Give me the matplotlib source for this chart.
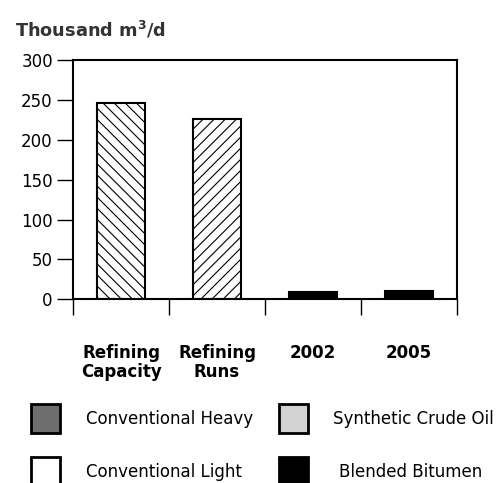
import matplotlib
matplotlib.use("Agg")
import matplotlib.pyplot as plt
from matplotlib.patches import Rectangle

plt.rcParams['font.family'] = ['DejaVu Sans']
plt.rcParams['hatch.linewidth'] = 0.8

# ---- data ----
categories = ["Refining\nCapacity", "Refining\nRuns", "2002", "2005"]
refining_values = [246, 226]          # hatched bars (first two categories)
refining_hatches = ["\\\\\\", "///"]
conv_heavy = [0, 0, 0, 0]
conv_light = [0, 0, 0, 0]
synthetic = [0, 0, 0, 0]
blended = [0, 0, 9.5, 10.5]

series_names = ["Conventional Heavy", "Conventional Light", "Synthetic Crude Oil", "Blended Bitumen"]
series_colors = ["#6e6e6e", "#ffffff", "#d2d2d2", "#000000"]
series_values = [conv_heavy, conv_light, synthetic, blended]

yticks = [0, 50, 100, 150, 200, 250, 300]

W, H = 498, 483
fig = plt.figure(figsize=(W / 100, H / 100), dpi=100)
ax = fig.add_axes([73 / W, 1 - 299.3 / H, (457 - 73) / W, (299.3 - 60) / H])

x = list(range(len(categories)))
bw = 0.5

# refining bars
for i, (v, h) in enumerate(zip(refining_values, refining_hatches)):
    ax.bar(x[i], v, width=bw, color="white", edgecolor="black", linewidth=1.5,
           hatch=h, zorder=2)

# stacked crude series
bottoms = [0.0] * len(categories)
for name, col, vals in zip(series_names, series_colors, series_values):
    for i, v in enumerate(vals):
        if v > 0:
            ax.bar(x[i], v, width=bw, bottom=bottoms[i], color=col,
                   edgecolor="black", linewidth=1.5, zorder=2)
            bottoms[i] += v

ax.set_xlim(-0.5, len(categories) - 0.5)
ax.set_ylim(0, 300)
ax.set_yticks(yticks)
ax.set_yticklabels([str(t) for t in yticks], fontsize=12)
ax.set_xticks([i - 0.5 for i in range(len(categories) + 1)])
ax.set_xticklabels([])
ax.tick_params(axis='y', direction='out', length=11.5, width=1, pad=3, colors='black')
ax.tick_params(axis='x', direction='out', length=11.5, width=1)
for s in ax.spines.values():
    s.set_linewidth(1.5)
    s.set_color("black")

trans = ax.get_xaxis_transform()
for i, c in enumerate(categories):
    ax.text(x[i], -0.185, c, transform=trans, ha='center', va='top',
            fontsize=12, fontweight='bold', linespacing=1.1)

# title
fig.text(15 / W, 1 - 36 / H, "Thousand m$^\\mathbf{3}$/d", fontsize=12.8, fontweight='bold',
         color='#333333', va='baseline', ha='left')

# legend
leg_pos = [(31, 404, 86, 419), (31, 457, 86, 472), (279, 404, 333, 419), (279, 457, 339, 472)]
for (sx, sy, tx, ty), name, col in zip(leg_pos, series_names, series_colors):
    fig.patches.append(Rectangle((sx / W, 1 - (sy + 29) / H), 29 / W, 29 / H,
                                 transform=fig.transFigure, facecolor=col,
                                 edgecolor='black', linewidth=2))
    fig.text(tx / W, 1 - ty / H, name, fontsize=12, va='center', ha='left')

fig.savefig("out.png", dpi=100)
